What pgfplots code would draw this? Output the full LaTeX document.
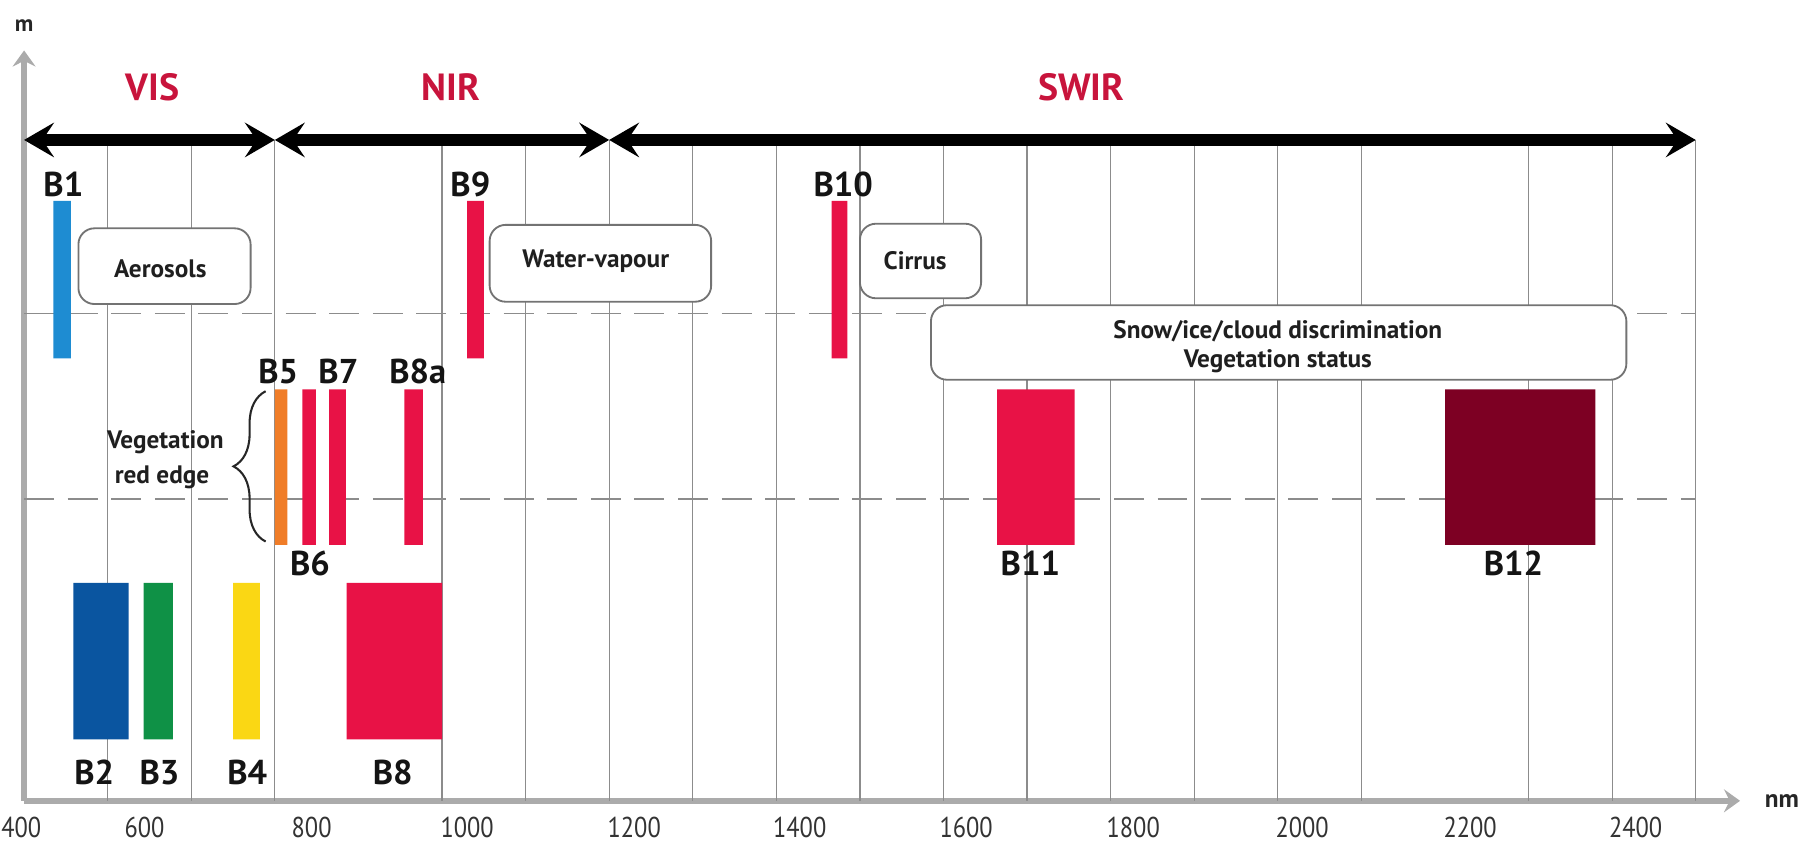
\documentclass[border=0pt]{standalone}
\usepackage{fontspec}
\setmainfont{PT Sans}
\newfontfamily\tickfont[FakeStretch=0.85]{PT Sans}
\usepackage{pgfplots}
\pgfplotsset{compat=1.18}
\usetikzlibrary{arrows.meta, decorations.pathreplacing}
\definecolor{cB1}{HTML}{1E8CD2}
\definecolor{cB2}{HTML}{0A55A0}
\definecolor{cB3}{HTML}{0F9146}
\definecolor{cB4}{HTML}{FAD714}
\definecolor{cB5}{HTML}{F07D28}
\definecolor{cRed}{HTML}{E81246}
\definecolor{cB12}{HTML}{7D0023}
\definecolor{regred}{HTML}{C8143C}
\definecolor{gridc}{HTML}{8C8C8C}
\definecolor{axisc}{HTML}{ABABAB}
\newcommand{\band}[5]{\addplot[draw=none, fill=#5, forget plot] coordinates {(#1,#3) (#2,#3) (#2,#4) (#1,#4) (#1,#3)};}
\begin{document}
\begin{tikzpicture}
\path[use as bounding box] (-10.5pt,-20pt) rectangle (773.5pt,349pt);
\begin{axis}[
  at={(0,0)}, anchor=south west,
  scale only axis, width=747.8pt, height=327pt,
  xmin=400, xmax=2453, ymin=0, ymax=654,
  enlargelimits=false, clip=false,
  axis lines=left,
  axis line style={draw=axisc, line width=2.6pt},
  x axis line style={-{Stealth[length=7pt,width=10pt,inset=2.5pt]}},
  y axis line style={-{Stealth[length=7pt,width=10pt,inset=2.5pt]}},
  ytick=\empty,
  xtick={544,744,930,1130,1328,1527,1727,1929,2130,2328},
  xticklabels={600,800,1000,1200,1400,1600,1800,2000,2200,2400},
  extra x ticks={400},
  extra x tick labels={400},
  extra x tick style={xticklabel style={xshift=-1.2pt}},
  major tick length=0pt,
  xticklabel style={anchor=center, yshift=-11.75pt, font=\tickfont\fontsize{12.5}{14}\selectfont, text=black!80},
]
% grid lines
\pgfplotsinvokeforeach{500,600,700,900,1000,1100,1200,1300,1400,1500,1600,1700,1800,1900,2000,2200,2300,2400}{
  \addplot[gridc, line width=0.55pt, forget plot] coordinates {(#1,0) (#1,576)};
}
% dashed level lines
\addplot[gridc, line width=0.6pt, dash pattern=on 13pt off 6pt, forget plot] coordinates {(400,425) (2400,425)};
\addplot[gridc, line width=0.6pt, dash pattern=on 13pt off 6pt, forget plot] coordinates {(400,263) (2400,263)};

% annotation boxes
\tikzset{annbox/.style={draw=black!55, line width=0.8pt, fill=white, rounded corners=7pt}}
\draw[annbox] (axis cs:465,433) rectangle (axis cs:671,499);
\draw[annbox] (axis cs:957,435) rectangle (axis cs:1222,502);
\draw[annbox] (axis cs:1400,438) rectangle (axis cs:1545,503);
\draw[annbox] (axis cs:1485,367) rectangle (axis cs:2317,432);
\tikzset{anntext/.style={font=\bfseries\fontsize{11}{13}\selectfont, text=black!88}}
\node[anntext] at (axis cs:563,464) {Aerosols};
\node[anntext] at (axis cs:1084,470) {Water-vapour};
\node[anntext] at (axis cs:1466,471) {Cirrus};
\node[anntext] at (axis cs:1900,409) {Snow/ice/cloud discrimination};
\node[anntext] at (axis cs:1900,383) {Vegetation status};
\node[anntext] at (axis cs:569,313) {Vegetation};
\node[anntext] at (axis cs:565,282) {red edge};
\draw[decorate, decoration={brace, amplitude=14pt, aspect=0.5}, line width=0.9pt, black!85] (axis cs:689,226) -- (axis cs:689,357);

% bands: left nm, right nm, bottom, top, colour
% 60 m
\band{435}{456}{385.7}{523}{cB1}
\band{930}{950}{385.7}{523}{cRed}
\band{1366}{1385}{385.7}{523}{cRed}
% 20 m
\band{700}{715}{223}{358.7}{cB5}
\band{733}{749}{223}{358.7}{cRed}
\band{765}{785}{223}{358.7}{cRed}
\band{855}{877}{223}{358.7}{cRed}
\band{1564}{1657}{223}{358.7}{cRed}
\band{2100}{2280}{223}{358.7}{cB12}
% 10 m
\band{459}{525}{53.6}{190}{cB2}
\band{543}{578}{53.6}{190}{cB3}
\band{650}{682}{53.6}{190}{cB4}
\band{786}{900}{53.6}{190}{cRed}

% band labels
\tikzset{blab/.style={font=\bfseries\fontsize{15}{17}\selectfont, text=black!92, anchor=base, inner sep=0pt}}
\node[blab] at (axis cs:447,527) {B1};
\node[blab] at (axis cs:934,527) {B9};
\node[blab] at (axis cs:1380,527) {B10};
\node[blab] at (axis cs:704,364) {B5};
\node[blab] at (axis cs:776,364) {B7};
\node[blab] at (axis cs:871,364) {B8a};
\node[blab] at (axis cs:742,196) {B6};
\node[blab] at (axis cs:1604,196) {B11};
\node[blab] at (axis cs:2182,196) {B12};
\node[blab] at (axis cs:484,14) {B2};
\node[blab] at (axis cs:562,14) {B3};
\node[blab] at (axis cs:667,14) {B4};
\node[blab] at (axis cs:841,14) {B8};

% spectral regions
\tikzset{dbl/.style={black, line width=5pt, {Stealth[length=13pt,width=15pt,inset=5pt]}-{Stealth[length=13pt,width=15pt,inset=5pt]}}}
\addplot[dbl, forget plot] coordinates {(400,576) (700,576)};
\addplot[dbl, forget plot] coordinates {(700,576) (1100,576)};
\addplot[dbl, forget plot] coordinates {(1100,576) (2400,576)};
\tikzset{reg/.style={font=\bfseries\fontsize{16.5}{19}\selectfont, text=regred}}
\node[reg] at (axis cs:554,622) {VIS};
\node[reg] at (axis cs:911,622) {NIR};
\node[reg] at (axis cs:1665,622) {SWIR};

% axis units
\node[font=\bfseries\fontsize{10}{12}\selectfont, text=black!85] at (axis cs:400,676) {m};
\node[font=\bfseries\fontsize{11}{13}\selectfont, text=black!85] at (axis cs:2503,0) {nm};
\end{axis}
\end{tikzpicture}
\end{document}
